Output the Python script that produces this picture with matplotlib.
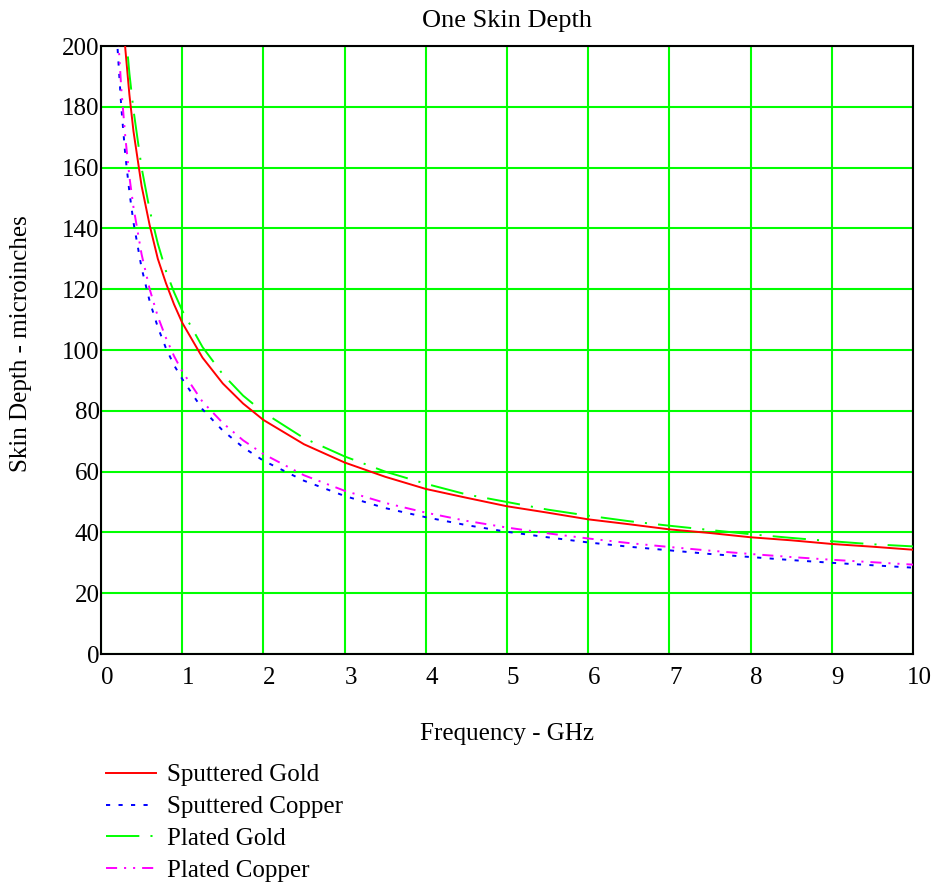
import matplotlib

matplotlib.use("Agg")
import matplotlib.pyplot as plt
import matplotlib.transforms as mtransforms

# values (frequency in GHz, skin depth in microinches)
freq_ghz = [0.15, 0.2, 0.25, 0.3, 0.35, 0.4, 0.5, 0.6, 0.7, 0.8, 0.9, 1.0,
            1.25, 1.5, 1.75, 2.0, 2.5, 3.0, 3.5, 4.0, 4.5, 5.0, 5.5, 6.0,
            6.5, 7.0, 7.5, 8.0, 8.5, 9.0, 9.5, 10.0]
sputtered_gold = [281, 244, 218, 199, 184, 172, 154, 141, 130, 122, 115, 109,
                  97.5, 89, 82.4, 77, 69, 63, 58.3, 54.3, 51.4, 48.6, 46.5, 44.3,
                  42.7, 41, 39.8, 38.4, 37.4, 36.2, 35.3, 34.3]
sputtered_copper = [232, 201, 180, 164, 152, 142, 127, 116, 107.5, 100.6, 95, 90.5,
                    80.5, 73.5, 68, 63.6, 57, 52, 48, 45, 42.4, 40.2, 38.4, 36.7,
                    35.3, 34.1, 32.9, 31.9, 30.9, 30, 29.2, 28.4]
plated_gold = [292, 253, 226, 206, 191, 179, 160, 146, 135, 126, 119, 113,
               101, 92, 85, 79.5, 71, 65, 60, 56, 52.5, 50, 47.5, 45.5,
               43.7, 42.2, 40.8, 39.4, 38.2, 37.1, 36.1, 35.4]
plated_copper = [240, 208, 186, 170, 157, 147, 131.5, 120, 111, 104, 98, 93,
                 83, 76, 70.3, 65.8, 58.8, 53.7, 49.7, 46.5, 43.8, 41.6, 39.7, 38,
                 36.5, 35.2, 34, 32.9, 31.9, 31, 30.2, 29.4]

x_ticks = list(range(0, 11))
y_ticks = list(range(0, 201, 20))

plt.rcParams["font.family"] = ["Liberation Serif", "DejaVu Serif"]
plt.rcParams["font.size"] = 18
plt.rcParams["lines.scale_dashes"] = False

fig = plt.figure(figsize=(9.35, 8.82), dpi=100)
ax = fig.add_axes([0.108, 0.2585, 0.8685, 0.6893])

series = [
    (sputtered_gold, "Sputtered Gold", "#ff0000", None),
    (sputtered_copper, "Sputtered Copper", "#0000ff", (3, 6)),
    (plated_gold, "Plated Gold", "#00ff00", (24, 8, 1.5, 8)),
    (plated_copper, "Plated Copper", "#ff00ff", (8, 5, 1.5, 5, 1.5, 5)),
]
for vals, label, color, dashes in series:
    line, = ax.plot(freq_ghz, vals, color=color, lw=1.4, label=label, zorder=3)
    if dashes:
        line.set_dashes(dashes)

ax.set_xlim(0, 10)
ax.set_ylim(0, 200)
ax.set_xticks(x_ticks)
ax.set_yticks(y_ticks)
ax.tick_params(length=0)
ax.tick_params(axis="x", pad=9)
ax.tick_params(axis="y", pad=1)
# x tick labels sit a few pixels right of their grid lines in the original
shift = mtransforms.ScaledTranslation(6 / 100, 0, fig.dpi_scale_trans)
for lbl in ax.get_xticklabels():
    lbl.set_transform(lbl.get_transform() + shift)
ax.grid(True, color="#00ff00", lw=1.5, zorder=1)
for sp in ax.spines.values():
    sp.set_linewidth(1.5)
    sp.set_color("black")

ax.set_title("One Skin Depth", pad=14, fontsize=19)
ax.set_xlabel("Frequency - GHz", va="top")
ax.xaxis.set_label_coords(0.5, -0.114)
ax.set_ylabel("Skin Depth - microinches")
ax.yaxis.set_label_coords(-0.085, 0.51)

ax.legend(loc="upper left", bbox_to_anchor=(106 / 935, 1 - 764 / 882),
          bbox_transform=fig.transFigure, frameon=False, borderpad=0,
          borderaxespad=0, handlelength=2.0, handletextpad=0.45,
          labelspacing=0.37)

fig.savefig("out.png", dpi=100)
